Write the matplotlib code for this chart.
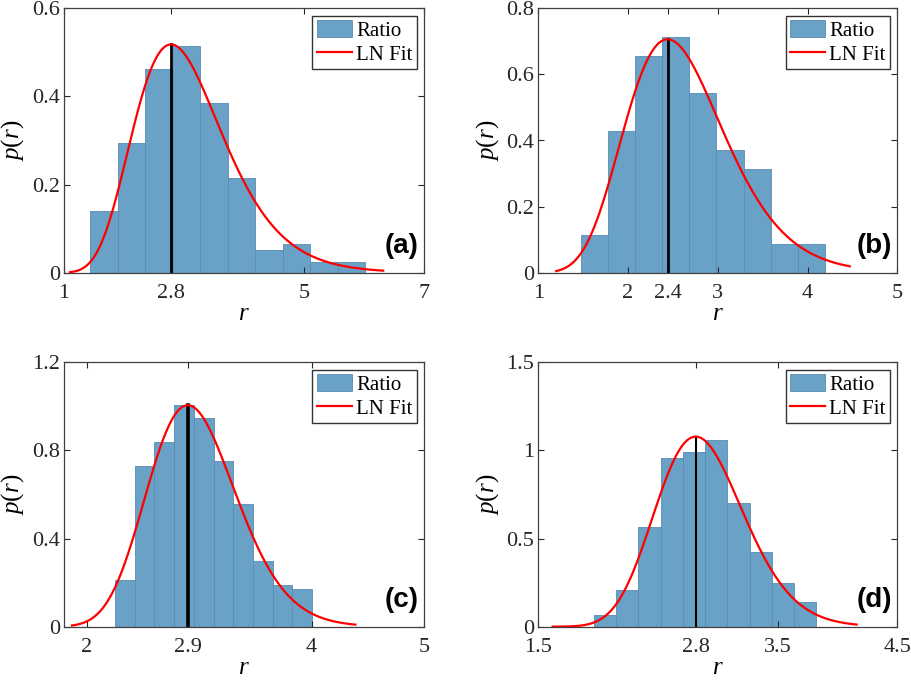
import numpy as np
import matplotlib
matplotlib.use('Agg')
from matplotlib import pyplot as plt

plt.rcParams['font.family'] = ['Liberation Serif', 'DejaVu Serif']
plt.rcParams['mathtext.fontset'] = 'custom'
plt.rcParams['mathtext.rm'] = 'Liberation Serif'
plt.rcParams['mathtext.it'] = 'Liberation Serif:italic'

# histogram bins (left edge of first bin, bin width) and densities
edge0_a, width_a = 1.433, 0.459
dens_a = [0.141, 0.295, 0.462, 0.515, 0.384, 0.216, 0.051, 0.064, 0.024, 0.024]
edge0_b, width_b = 1.475, 0.302
dens_b = [0.113, 0.429, 0.657, 0.714, 0.544, 0.371, 0.313, 0.086, 0.086]
edge0_c, width_c = 2.253, 0.1753
dens_c = [0.210, 0.729, 0.837, 1.008, 0.946, 0.752, 0.558, 0.300, 0.191, 0.171]
edge0_d, width_d = 1.965, 0.1858
dens_d = [0.068, 0.210, 0.566, 0.955, 0.989, 1.061, 0.704, 0.426, 0.246, 0.138]

# lognormal fit parameters (mu, sigma) and the x range the fit is drawn over
fit_a, span_a = (1.095, 0.267), (1.10, 6.32)
fit_b, span_b = (0.943, 0.2257), (1.20, 4.47)
fit_c, span_c = (1.0831, 0.1356), (1.87, 4.39)
fit_d, span_d = (1.052, 0.1303), (1.62, 4.16)

# axes limits and ticks
xlim_a, xlim_b, xlim_c, xlim_d = (1, 7), (1, 5), (1.8, 5), (1.5, 4.5)
xticks_a, xlabels_a = [1, 2.783, 5, 7], ['1', '2.8', '5', '7']
xticks_b, xlabels_b = [1, 2, 2.44, 3, 4, 5], ['1', '2', '2.4', '3', '4', '5']
xticks_c, xlabels_c = [2, 2.9, 4, 5], ['2', '2.9', '4', '5']
xticks_d, xlabels_d = [1.5, 2.815, 3.5, 4.5], ['1.5', '2.8', '3.5', '4.5']
yticks_a, ylabels_a = [0, 0.2, 0.4, 0.6], ['0', '0.2', '0.4', '0.6']
yticks_b, ylabels_b = [0, 0.2, 0.4, 0.6, 0.8], ['0', '0.2', '0.4', '0.6', '0.8']
yticks_c, ylabels_c = [0, 0.4, 0.8, 1.2], ['0', '0.4', '0.8', '1.2']
yticks_d, ylabels_d = [0, 0.5, 1, 1.5], ['0', '0.5', '1', '1.5']
tags = ['(a)', '(b)', '(c)', '(d)']

bar_color = '#6aa1c7'
edge_color = '#5a8cb4'


def lognpdf(x, mu, sigma):
    return np.exp(-(np.log(x) - mu) ** 2 / (2 * sigma ** 2)) / (x * sigma * np.sqrt(2 * np.pi))


def draw(ax, edge0, width, dens, fit, span, xlim, xt, xl, yt, yl, tag, vlw):
    left = edge0 + width * np.arange(len(dens))
    bars = ax.bar(left, dens, width=width, align='edge', color=bar_color,
                  edgecolor=edge_color, linewidth=0.6, label='Ratio', zorder=1)
    mu, sigma = fit
    xs = np.linspace(span[0], span[1], 400)
    line, = ax.plot(xs, lognpdf(xs, mu, sigma), color='red', lw=1.6, label='LN Fit', zorder=3)
    mode = np.exp(mu - sigma ** 2)
    ax.plot([mode, mode], [0, lognpdf(mode, mu, sigma)], color='black', lw=vlw, zorder=2)

    ax.set_xlim(*xlim)
    ax.set_ylim(yt[0], yt[-1])
    ax.set_xticks(xt)
    ax.set_xticklabels(xl)
    ax.set_yticks(yt)
    ax.set_yticklabels(yl)
    ax.tick_params(direction='in', top=True, right=True, length=4, width=0.8,
                   labelsize=16, colors='#262626')
    ax.tick_params(axis='x', pad=8)
    ax.tick_params(axis='y', pad=3)
    for s in ax.spines.values():
        s.set_color('#404040')
        s.set_linewidth(0.9)
    ax.set_xlabel('$r$', fontsize=18, labelpad=0)
    ax.set_ylabel('$p(r)$', fontsize=18, labelpad=4)

    leg = ax.legend([bars, line], ['Ratio', 'LN Fit'], loc='upper right', fontsize=15,
                    frameon=True, fancybox=False, framealpha=1, edgecolor='#333333',
                    borderpad=0.2, labelspacing=0.15, handlelength=1.7, handleheight=0.9,
                    handletextpad=0.2, borderaxespad=0.35)
    leg.get_frame().set_linewidth(1.0)
    ax.text(0.985, 0.10, tag, transform=ax.transAxes, ha='right', va='center',
            fontsize=20, fontweight='bold', family='Liberation Sans', zorder=5)


fig = plt.figure(figsize=(9.11, 6.8), dpi=100)
W, H = 911.0, 680.0
ax_a = fig.add_axes([64 / W, 1 - 272.7 / H, 360 / W, 264.4 / H])
ax_b = fig.add_axes([538.3 / W, 1 - 272.7 / H, 359 / W, 264.4 / H])
ax_c = fig.add_axes([64 / W, 1 - 626.7 / H, 360 / W, 264.4 / H])
ax_d = fig.add_axes([538.3 / W, 1 - 626.7 / H, 359 / W, 264.4 / H])

draw(ax_a, edge0_a, width_a, dens_a, fit_a, span_a, xlim_a, xticks_a, xlabels_a, yticks_a, ylabels_a, tags[0], 2.0)
draw(ax_b, edge0_b, width_b, dens_b, fit_b, span_b, xlim_b, xticks_b, xlabels_b, yticks_b, ylabels_b, tags[1], 2.0)
draw(ax_c, edge0_c, width_c, dens_c, fit_c, span_c, xlim_c, xticks_c, xlabels_c, yticks_c, ylabels_c, tags[2], 2.6)
draw(ax_d, edge0_d, width_d, dens_d, fit_d, span_d, xlim_d, xticks_d, xlabels_d, yticks_d, ylabels_d, tags[3], 1.5)

fig.savefig('out.png', dpi=100)
